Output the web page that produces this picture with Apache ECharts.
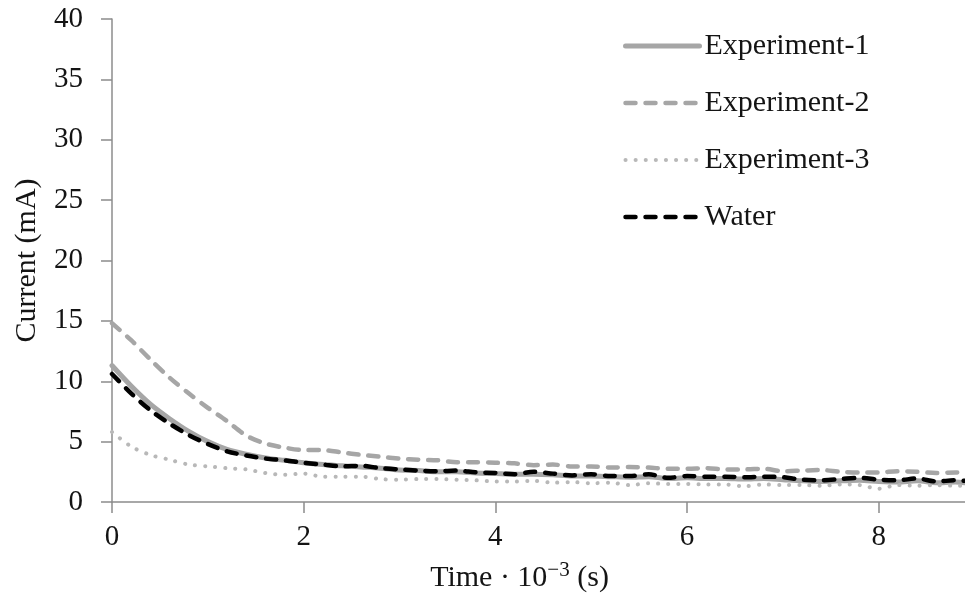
<!DOCTYPE html>
<html>
<head>
<meta charset="utf-8">
<script src="https://cdn.jsdelivr.net/npm/echarts@6/dist/echarts.min.js"></script>
<style>
  html, body { margin: 0; padding: 0; background: #fff; }
  #chart { width: 965px; height: 599px; }
</style>
</head>
<body>
<div id="chart"></div>
<script>
// Time axis (×10^-3 s)
const timeValues = [0, 0.2, 0.4, 0.6, 0.8, 1.0, 1.2, 1.4, 1.6, 1.8, 2.0, 2.2, 2.4, 2.6, 2.8, 3.0,
  3.2, 3.4, 3.6, 3.8, 4.0, 4.2, 4.4, 4.6, 4.8, 5.0, 5.2, 5.4, 5.6, 5.8, 6.0, 6.2, 6.4, 6.6,
  6.8, 7.0, 7.2, 7.4, 7.6, 7.8, 8.0, 8.2, 8.4, 8.6, 8.8, 8.9];

// Current (mA)
const experiment1 = [11.3, 9.6, 8.1, 6.9, 5.85, 5.0, 4.35, 3.95, 3.65, 3.45, 3.25, 3.1, 3.0, 2.9, 2.8, 2.65,
  2.6, 2.5, 2.5, 2.4, 2.35, 2.3, 2.3, 2.25, 2.15, 2.15, 2.1, 2.05, 2.1, 1.95, 2.0, 1.95, 1.95, 1.9,
  1.95, 1.85, 1.75, 1.7, 1.75, 1.8, 1.7, 1.65, 1.75, 1.6, 1.65, 1.6];
const experiment2 = [14.8, 13.4, 11.8, 10.3, 9.0, 7.8, 6.7, 5.5, 4.85, 4.5, 4.3, 4.3, 4.1, 3.9, 3.75, 3.6,
  3.5, 3.45, 3.3, 3.3, 3.25, 3.2, 3.05, 3.1, 2.95, 2.95, 2.85, 2.9, 2.85, 2.75, 2.75, 2.8, 2.7, 2.7,
  2.75, 2.55, 2.6, 2.65, 2.5, 2.45, 2.45, 2.55, 2.5, 2.4, 2.45, 2.4];
const experiment3 = [5.8, 4.6, 3.9, 3.5, 3.1, 2.95, 2.8, 2.7, 2.4, 2.25, 2.35, 2.1, 2.1, 2.1, 1.9, 1.85,
  1.9, 1.9, 1.85, 1.8, 1.7, 1.7, 1.75, 1.6, 1.65, 1.55, 1.6, 1.4, 1.55, 1.5, 1.5, 1.45, 1.45, 1.3,
  1.45, 1.4, 1.4, 1.35, 1.45, 1.4, 1.1, 1.4, 1.35, 1.4, 1.35, 1.35];
const water = [10.6, 9.0, 7.6, 6.5, 5.55, 4.8, 4.2, 3.85, 3.6, 3.45, 3.25, 3.1, 2.95, 3.0, 2.8, 2.7,
  2.6, 2.55, 2.6, 2.45, 2.4, 2.3, 2.5, 2.35, 2.2, 2.3, 2.15, 2.15, 2.3, 2.0, 2.15, 2.1, 2.1, 2.05,
  2.1, 2.05, 1.85, 1.8, 1.9, 2.0, 1.85, 1.8, 1.95, 1.7, 1.8, 1.75];

const seriesNames = ['Experiment-1', 'Experiment-2', 'Experiment-3', 'Water'];

const pairs = arr => timeValues.map((t, i) => [t, arr[i]]);

const serif = 'Liberation Serif, Times New Roman, serif';
const axisGrey = '#8c8c8c';
const textColor = '#141414';

const chart = echarts.init(document.getElementById('chart'), null, { renderer: 'canvas' });

chart.setOption({
  backgroundColor: '#ffffff',
  animation: false,
  grid: { left: 112, right: 0, top: 19, bottom: 97, containLabel: false },
  legend: {
    orient: 'vertical',
    left: 623,
    top: 31,
    padding: 0,
    itemWidth: 74,
    itemHeight: 14,
    itemGap: 27,
    data: seriesNames,
    itemStyle: { opacity: 0 },
    lineStyle: { width: 'inherit', cap: 'round' },
    textStyle: { fontFamily: serif, fontSize: 30, color: textColor, lineHeight: 30 }
  },
  xAxis: {
    type: 'value',
    min: 0,
    max: 8.9,
    interval: 2,
    name: '{a|Time · 10}{s|−3}{a| (s)}',
    nameLocation: 'middle',
    nameGap: 58,
    nameTextStyle: {
      padding: [0, 38, 0, 0],
      rich: {
        a: { fontFamily: serif, fontSize: 30, color: textColor },
        s: { fontFamily: serif, fontSize: 21, color: textColor, padding: [0, 0, 16, 0] }
      }
    },
    axisLine: { show: true, lineStyle: { color: axisGrey, width: 1.5 } },
    axisTick: { show: true, inside: false, length: 11, lineStyle: { color: axisGrey, width: 1.5 } },
    axisLabel: {
      margin: 21,
      fontFamily: serif,
      fontSize: 29,
      color: textColor,
      showMaxLabel: false,
      formatter: v => (Math.abs(v % 2) < 1e-9 ? String(v) : '')
    },
    splitLine: { show: false }
  },
  yAxis: {
    type: 'value',
    min: 0,
    max: 40,
    interval: 5,
    name: 'Current (mA)',
    nameLocation: 'middle',
    nameGap: 70,
    nameTextStyle: { fontFamily: serif, fontSize: 30, color: textColor },
    axisLine: { show: true, lineStyle: { color: axisGrey, width: 1.5 } },
    axisTick: { show: true, inside: false, length: 11, lineStyle: { color: axisGrey, width: 1.5 } },
    axisLabel: { margin: 29, fontFamily: serif, fontSize: 29, color: textColor },
    splitLine: { show: false }
  },
  series: [
    {
      name: 'Experiment-1',
      type: 'line',
      data: pairs(experiment1),
      symbol: 'none',
      smooth: 0.3,
      z: 2,
      lineStyle: { color: '#a6a6a6', width: 5, cap: 'round', join: 'round' },
      itemStyle: { color: '#a6a6a6' }
    },
    {
      name: 'Experiment-2',
      type: 'line',
      data: pairs(experiment2),
      symbol: 'none',
      smooth: 0.3,
      z: 3,
      lineStyle: { color: '#a6a6a6', width: 4.5, type: [10, 10], cap: 'round', join: 'round' },
      itemStyle: { color: '#a6a6a6' }
    },
    {
      name: 'Experiment-3',
      type: 'line',
      data: pairs(experiment3),
      symbol: 'none',
      smooth: 0.3,
      z: 3,
      lineStyle: { color: '#b8b8b8', width: 4, type: [0.1, 10], cap: 'round', join: 'round' },
      itemStyle: { color: '#b8b8b8' }
    },
    {
      name: 'Water',
      type: 'line',
      data: pairs(water),
      symbol: 'none',
      smooth: 0.3,
      z: 4,
      lineStyle: { color: '#000000', width: 4.5, type: [10, 10], cap: 'round', join: 'round' },
      itemStyle: { color: '#000000' }
    }
  ]
});
</script>
</body>
</html>
